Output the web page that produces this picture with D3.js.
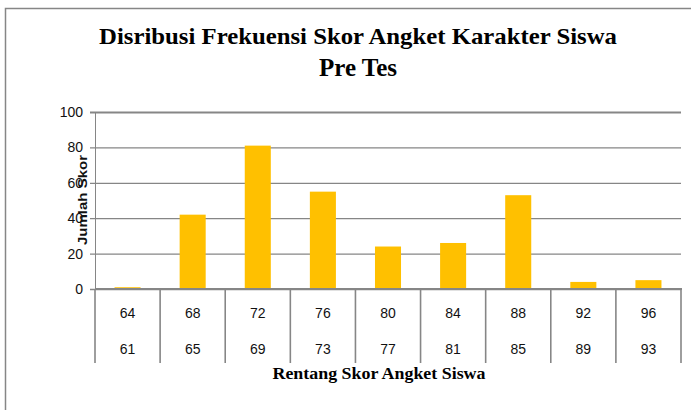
<!DOCTYPE html>
<html>
<head>
<meta charset="utf-8">
<script src="https://cdn.jsdelivr.net/npm/d3@7"></script>
<style>
  body { margin: 0; background: #fff; }
  svg { display: block; }
</style>
</head>
<body>
<div id="chart"></div>
<script>
// interval bounds and counts
const lowerBound = ["61", "65", "69", "73", "77", "81", "85", "89", "93"]
const upperBound = ["64", "68", "72", "76", "80", "84", "88", "92", "96"]
const jumlah = [1, 42, 81, 55, 24, 26, 53, 4, 5]
const yTicks = [0, 20, 40, 60, 80, 100]

const W = 691, H = 410
const grey = "#868686"

const svg = d3.select("#chart").append("svg")
    .attr("width", W)
    .attr("height", H)

// outer frame (only top and left edges fall inside the picture)
svg.append("path")
    .attr("d", "M5.5," + H + "V8.5H" + W)
    .attr("fill", "none")
    .attr("stroke", grey)
    .attr("stroke-width", 1.5)

const plot = { left: 95, right: 681, top: 112, bottom: 289 }

const x = d3.scaleBand()
    .domain(lowerBound)
    .range([plot.left, plot.right])
    .paddingInner(0.6)
    .paddingOuter(0.3)

const xEdge = d3.scaleLinear()
    .domain([0, lowerBound.length])
    .range([plot.left, plot.right])

const y = d3.scaleLinear()
    .domain([0, 100])
    .range([plot.bottom, plot.top])

// gridlines + y axis
const yAxis = svg.append("g")
    .attr("transform", "translate(" + plot.left + ",0)")
    .call(d3.axisLeft(y).tickValues(yTicks).tickSize(-(plot.right - plot.left)).tickSizeOuter(0).tickPadding(12))

yAxis.select(".domain").remove()
yAxis.selectAll(".tick line")
    .attr("x1", -5)
    .attr("stroke", grey)
    .attr("stroke-width", d => d == 100 ? 2 : 1.3)
yAxis.selectAll(".tick text")
    .attr("font-family", "Liberation Sans, Arial, sans-serif")
    .attr("font-size", 14)
    .attr("fill", "#111")

svg.append("line")
    .attr("x1", plot.left + 0.5).attr("x2", plot.left + 0.5)
    .attr("y1", plot.top).attr("y2", plot.bottom)
    .attr("stroke", grey)
    .attr("stroke-width", 1)

// bars
svg.append("g").selectAll("rect")
    .data(jumlah)
    .join("rect")
    .attr("x", (d, i) => x(lowerBound[i]))
    .attr("width", x.bandwidth())
    .attr("y", d => y(d))
    .attr("height", d => y(0) - y(d))
    .attr("fill", "#FFC000")

// category axis with long divider ticks
svg.append("g").selectAll("line")
    .data(d3.range(lowerBound.length + 1))
    .join("line")
    .attr("x1", i => xEdge(i)).attr("x2", i => xEdge(i))
    .attr("y1", plot.bottom).attr("y2", 363)
    .attr("stroke", grey)
    .attr("stroke-width", 1.6)

svg.append("line")
    .attr("x1", plot.left).attr("x2", plot.right + 1)
    .attr("y1", plot.bottom).attr("y2", plot.bottom)
    .attr("stroke", grey)
    .attr("stroke-width", 2.2)

const catFont = "Liberation Sans, Arial, sans-serif"

svg.append("g").selectAll("text")
    .data(upperBound)
    .join("text")
    .attr("x", (d, i) => x(lowerBound[i]) + x.bandwidth() / 2)
    .attr("y", 318)
    .attr("text-anchor", "middle")
    .attr("font-family", catFont)
    .attr("font-size", 14)
    .attr("fill", "#111")
    .text(d => d)

svg.append("g").selectAll("text")
    .data(lowerBound)
    .join("text")
    .attr("x", d => x(d) + x.bandwidth() / 2)
    .attr("y", 354)
    .attr("text-anchor", "middle")
    .attr("font-family", catFont)
    .attr("font-size", 14)
    .attr("fill", "#111")
    .text(d => d)

// titles
const serif = "Liberation Serif, Times New Roman, serif"

svg.append("text")
    .attr("x", 358).attr("y", 44)
    .attr("text-anchor", "middle")
    .attr("font-family", serif)
    .attr("font-weight", "bold")
    .attr("font-size", 24)
    .attr("textLength", 518)
    .attr("lengthAdjust", "spacingAndGlyphs")
    .text("Disribusi Frekuensi Skor Angket Karakter Siswa")

svg.append("text")
    .attr("x", 358).attr("y", 76)
    .attr("text-anchor", "middle")
    .attr("font-family", serif)
    .attr("font-weight", "bold")
    .attr("font-size", 25)
    .text("Pre Tes")

svg.append("text")
    .attr("x", 379).attr("y", 379)
    .attr("text-anchor", "middle")
    .attr("font-family", serif)
    .attr("font-weight", "bold")
    .attr("font-size", 16)
    .attr("textLength", 213)
    .attr("lengthAdjust", "spacingAndGlyphs")
    .text("Rentang Skor Angket Siswa")

svg.append("text")
    .attr("transform", "translate(87,200) rotate(-90)")
    .attr("text-anchor", "middle")
    .attr("font-family", catFont)
    .attr("font-weight", "bold")
    .attr("font-size", 13)
    .attr("textLength", 90)
    .attr("lengthAdjust", "spacingAndGlyphs")
    .attr("fill", "#111")
    .text("Jumlah Skor")
</script>
</body>
</html>
